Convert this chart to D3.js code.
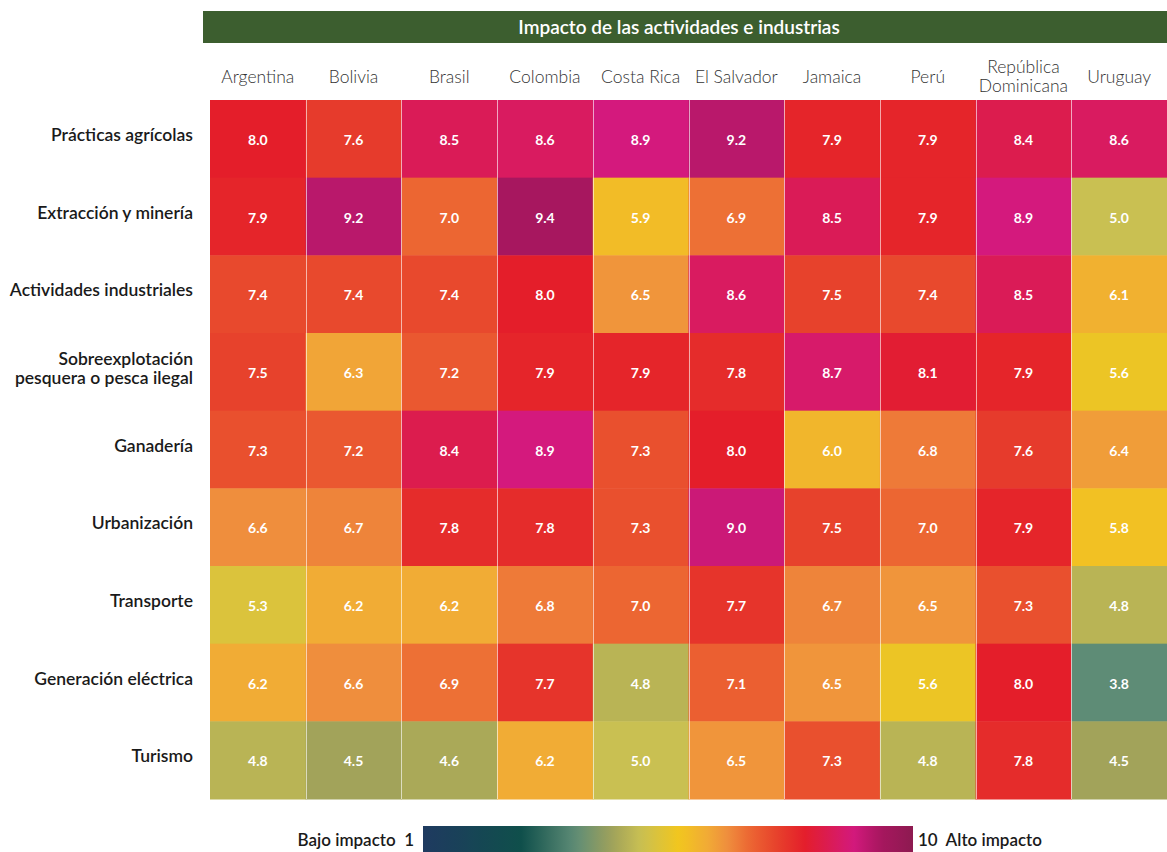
<!DOCTYPE html>
<html>
<head>
<meta charset="utf-8">
<script src="https://cdn.jsdelivr.net/npm/d3@7"></script>
<style>
  body { margin: 0; background: #fff; }
  svg { display: block; font-family: Lato, "Open Sans", sans-serif; }
</style>
</head>
<body>
<svg id="chart" width="1167" height="852"></svg>
<script>
// countries (columns) and activities (rows)
var countries = ["Argentina", "Bolivia", "Brasil", "Colombia", "Costa Rica", "El Salvador", "Jamaica", "Perú", "República Dominicana", "Uruguay"];
var activities = ["Prácticas agrícolas", "Extracción y minería", "Actividades industriales", "Sobreexplotación pesquera o pesca ilegal", "Ganadería", "Urbanización", "Transporte", "Generación eléctrica", "Turismo"];

// one row of values per activity, in country order
var agricola   = [8.0, 7.6, 8.5, 8.6, 8.9, 9.2, 7.9, 7.9, 8.4, 8.6];
var mineria    = [7.9, 9.2, 7.0, 9.4, 5.9, 6.9, 8.5, 7.9, 8.9, 5.0];
var industria  = [7.4, 7.4, 7.4, 8.0, 6.5, 8.6, 7.5, 7.4, 8.5, 6.1];
var pesca      = [7.5, 6.3, 7.2, 7.9, 7.9, 7.8, 8.7, 8.1, 7.9, 5.6];
var ganaderia  = [7.3, 7.2, 8.4, 8.9, 7.3, 8.0, 6.0, 6.8, 7.6, 6.4];
var urbano     = [6.6, 6.7, 7.8, 7.8, 7.3, 9.0, 7.5, 7.0, 7.9, 5.8];
var transporte = [5.3, 6.2, 6.2, 6.8, 7.0, 7.7, 6.7, 6.5, 7.3, 4.8];
var electrica  = [6.2, 6.6, 6.9, 7.7, 4.8, 7.1, 6.5, 5.6, 8.0, 3.8];
var turismo    = [4.8, 4.5, 4.6, 6.2, 5.0, 6.5, 7.3, 4.8, 7.8, 4.5];

var values = [agricola, mineria, industria, pesca, ganaderia, urbano, transporte, electrica, turismo];

var title = "Impacto de las actividades e industrias";
var legendMin = 1, legendMax = 10;

var svg = d3.select("#chart");

var gridLeft = 210, gridRight = 1167, gridTop = 100, gridBottom = 799;

var x = d3.scaleBand().domain(countries).range([gridLeft, gridRight]);
var y = d3.scaleBand().domain(activities).range([gridTop, gridBottom]);

// colour ramp
var color = d3.scaleLinear()
  .domain([1, 2.8, 3.8, 4.5, 5.0, 5.7, 6.2, 6.6, 7.0, 7.5, 8.0, 8.5, 8.9, 9.4, 10])
  .range(["#1f3a60", "#0f4f4b", "#5e8c76", "#a2a35a", "#c9c052", "#f2c61e", "#f1ac35", "#ef8e3d",
          "#ec6632", "#e7422c", "#e41e2a", "#da1b57", "#d4197d", "#a7175f", "#8d1a50"])
  .interpolate(d3.interpolateRgb)
  .clamp(true);

// title bar
svg.append("rect")
  .attr("x", 203).attr("y", 11)
  .attr("width", gridRight - 203).attr("height", 32)
  .attr("fill", "#3c5e2f");
svg.append("text")
  .attr("x", (203 + gridRight) / 2 - 6).attr("y", 34)
  .attr("text-anchor", "middle")
  .attr("fill", "#fff")
  .attr("font-size", 19)
  .attr("font-weight", 600)
  .text(title);

// cells
var cells = [];
values.forEach(function(row, i) {
  row.forEach(function(v, j) {
    cells.push({ act: activities[i], country: countries[j], v: v });
  });
});

var g = svg.append("g");
g.selectAll("rect")
  .data(cells)
  .enter()
  .append("rect")
  .attr("x", function(d) { return x(d.country); })
  .attr("y", function(d) { return y(d.act); })
  .attr("width", x.bandwidth() + 0.5)
  .attr("height", y.bandwidth() + 0.5)
  .attr("fill", function(d) { return color(d.v); });

// thin light separators between columns
svg.append("g").selectAll("line")
  .data(countries.slice(1))
  .enter()
  .append("line")
  .attr("x1", function(d) { return Math.round(x(d)) + 0.5; })
  .attr("x2", function(d) { return Math.round(x(d)) + 0.5; })
  .attr("y1", gridTop).attr("y2", gridBottom)
  .attr("stroke", "#fff")
  .attr("stroke-opacity", 0.6)
  .attr("stroke-width", 1);

g.selectAll("text")
  .data(cells)
  .enter()
  .append("text")
  .attr("x", function(d) { return x(d.country) + x.bandwidth() / 2; })
  .attr("y", function(d) { return y(d.act) + y.bandwidth() / 2 + 6; })
  .attr("text-anchor", "middle")
  .attr("fill", "#fff")
  .attr("font-size", 14)
  .attr("font-weight", 700)
  .text(function(d) { return d3.format(".1f")(d.v); });

// column headers
var colLabels = { "República Dominicana": ["República", "Dominicana"] };
var xAxis = svg.append("g");
countries.forEach(function(c) {
  var lines = colLabels[c] || [c];
  var t = xAxis.append("text")
    .attr("x", x(c) + x.bandwidth() / 2)
    .attr("y", lines.length > 1 ? 73 : 83)
    .attr("text-anchor", "middle")
    .attr("fill", "#333")
    .attr("font-size", 17.5)
    .attr("font-weight", 300);
  lines.forEach(function(l, k) {
    t.append("tspan")
      .attr("x", x(c) + x.bandwidth() / 2)
      .attr("dy", k === 0 ? 0 : 19)
      .text(l);
  });
});

// row labels
var rowLabels = { "Sobreexplotación pesquera o pesca ilegal": ["Sobreexplotación", "pesquera o pesca ilegal"] };
var yAxis = svg.append("g");
activities.forEach(function(a) {
  var lines = rowLabels[a] || [a];
  var cy = y(a) + y.bandwidth() / 2;
  var t = yAxis.append("text")
    .attr("x", 193)
    .attr("y", lines.length > 1 ? cy - 7 : cy + 2)
    .attr("text-anchor", "end")
    .attr("fill", "#1a1a1a")
    .attr("font-size", 17.5)
    .attr("font-weight", 600);
  lines.forEach(function(l, k) {
    t.append("tspan")
      .attr("x", 193)
      .attr("dy", k === 0 ? 0 : 19)
      .text(l);
  });
});

// legend
var lx = d3.scaleLinear().domain([legendMin, legendMax]).range([423, 913]);
var defs = svg.append("defs");
var grad = defs.append("linearGradient").attr("id", "legend-grad");
d3.range(0, 1.0001, 0.02).forEach(function(t) {
  grad.append("stop")
    .attr("offset", (t * 100) + "%")
    .attr("stop-color", color(legendMin + t * (legendMax - legendMin)));
});
svg.append("rect")
  .attr("x", lx(legendMin)).attr("y", 826)
  .attr("width", lx(legendMax) - lx(legendMin)).attr("height", 26)
  .attr("fill", "url(#legend-grad)");

svg.append("text")
  .attr("x", lx(legendMin) - 9).attr("y", 846)
  .attr("text-anchor", "end")
  .attr("fill", "#1a1a1a")
  .attr("font-size", 17)
  .attr("font-weight", 600)
  .attr("xml:space", "preserve")
  .text("Bajo impacto  " + legendMin);
svg.append("text")
  .attr("x", lx(legendMax) + 5).attr("y", 846)
  .attr("fill", "#1a1a1a")
  .attr("font-size", 17)
  .attr("font-weight", 600)
  .attr("xml:space", "preserve")
  .text(legendMax + "  Alto impacto");
</script>
</body>
</html>
